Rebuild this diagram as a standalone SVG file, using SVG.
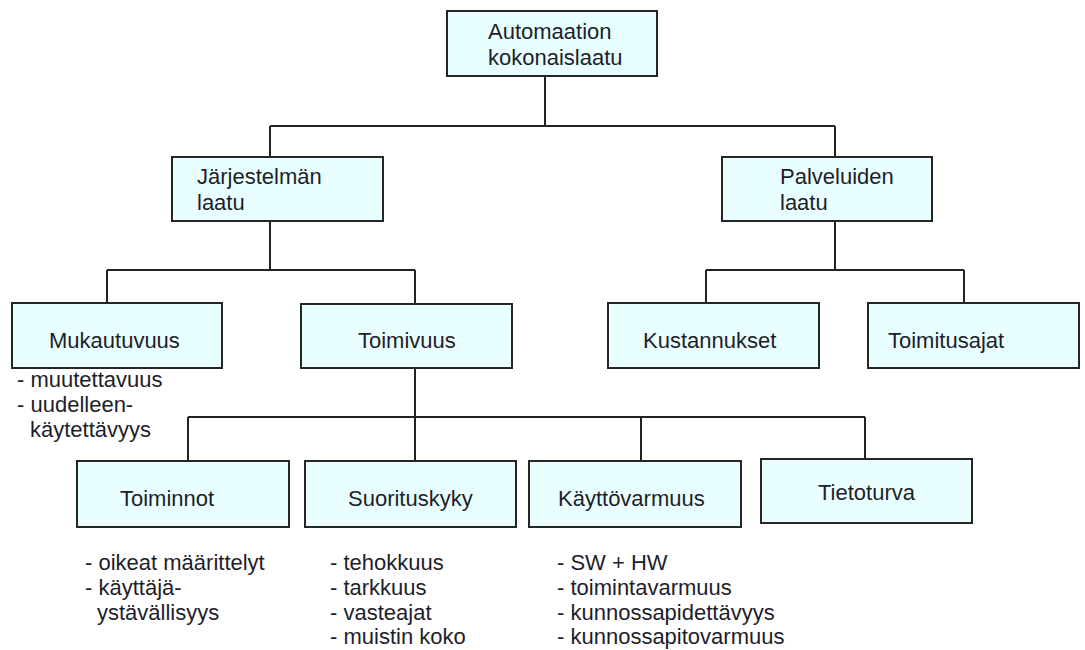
<svg xmlns="http://www.w3.org/2000/svg" width="1085" height="650" viewBox="0 0 1085 650">
  <style>
    .box { fill: #e9ffff; stroke: #262626; stroke-width: 2; }
    .lbl { font-family: "Liberation Sans", Arial, sans-serif; font-size: 22px; fill: #1e1e2a; }
    .wire { fill: none; stroke: #222; stroke-width: 2; }
  </style>
  <rect width="1085" height="650" fill="#fff"/>

  <!-- tree connectors -->
  <g id="connectors" class="wire">
    <path d="M545 76 V126 M270 126 H835 M270 126 V157 M835 126 V157"/>
    <path d="M270 221 V270 M107 270 H415 M107 270 V303 M415 270 V304"/>
    <path d="M835 221 V270 M706 270 H964 M706 270 V303 M964 270 V303"/>
    <path d="M415 368 V461 M188 417 H865 M188 417 V461 M641 417 V461 M865 417 V459"/>
  </g>

  <g id="root">
    <rect class="box" x="447" y="11" width="210" height="65"/>
    <text class="lbl" x="488" y="39">Automaation</text>
    <text class="lbl" x="488" y="65">kokonaislaatu</text>
  </g>

  <g id="jarjestelman-laatu">
    <rect class="box" x="172" y="157" width="211" height="64"/>
    <text class="lbl" x="197" y="184">Järjestelmän</text>
    <text class="lbl" x="197" y="210">laatu</text>
  </g>

  <g id="palveluiden-laatu">
    <rect class="box" x="722" y="157" width="210" height="64"/>
    <text class="lbl" x="780" y="184">Palveluiden</text>
    <text class="lbl" x="780" y="210">laatu</text>
  </g>

  <g id="mukautuvuus">
    <rect class="box" x="12" y="303" width="210" height="65"/>
    <text class="lbl" x="49" y="348">Mukautuvuus</text>
    <text class="lbl" x="17" y="387">- muutettavuus</text>
    <text class="lbl" x="17" y="412">- uudelleen-</text>
    <text class="lbl" x="30" y="437">käytettävyys</text>
  </g>

  <g id="toimivuus">
    <rect class="box" x="301" y="304" width="211" height="64"/>
    <text class="lbl" x="358" y="348">Toimivuus</text>
  </g>

  <g id="kustannukset">
    <rect class="box" x="608" y="303" width="211" height="65"/>
    <text class="lbl" x="643" y="348">Kustannukset</text>
  </g>

  <g id="toimitusajat">
    <rect class="box" x="868" y="303" width="211" height="65"/>
    <text class="lbl" x="888" y="348">Toimitusajat</text>
  </g>

  <g id="toiminnot">
    <rect class="box" x="77" y="461" width="212" height="66"/>
    <text class="lbl" x="120" y="506">Toiminnot</text>
    <text class="lbl" x="85" y="570">- oikeat määrittelyt</text>
    <text class="lbl" x="85" y="595">- käyttäjä-</text>
    <text class="lbl" x="97" y="620">ystävällisyys</text>
  </g>

  <g id="suorituskyky">
    <rect class="box" x="305" y="461" width="211" height="66"/>
    <text class="lbl" x="348" y="506">Suorituskyky</text>
    <text class="lbl" x="330" y="570">- tehokkuus</text>
    <text class="lbl" x="330" y="595">- tarkkuus</text>
    <text class="lbl" x="330" y="620">- vasteajat</text>
    <text class="lbl" x="330" y="644">- muistin koko</text>
  </g>

  <g id="kayttovarmuus">
    <rect class="box" x="529" y="461" width="212" height="66"/>
    <text class="lbl" x="558" y="506">Käyttövarmuus</text>
    <text class="lbl" x="557" y="570">- SW + HW</text>
    <text class="lbl" x="557" y="595">- toimintavarmuus</text>
    <text class="lbl" x="557" y="620">- kunnossapidettävyys</text>
    <text class="lbl" x="557" y="644">- kunnossapitovarmuus</text>
  </g>

  <g id="tietoturva">
    <rect class="box" x="761" y="459" width="211" height="64"/>
    <text class="lbl" x="818" y="500">Tietoturva</text>
  </g>
</svg>
